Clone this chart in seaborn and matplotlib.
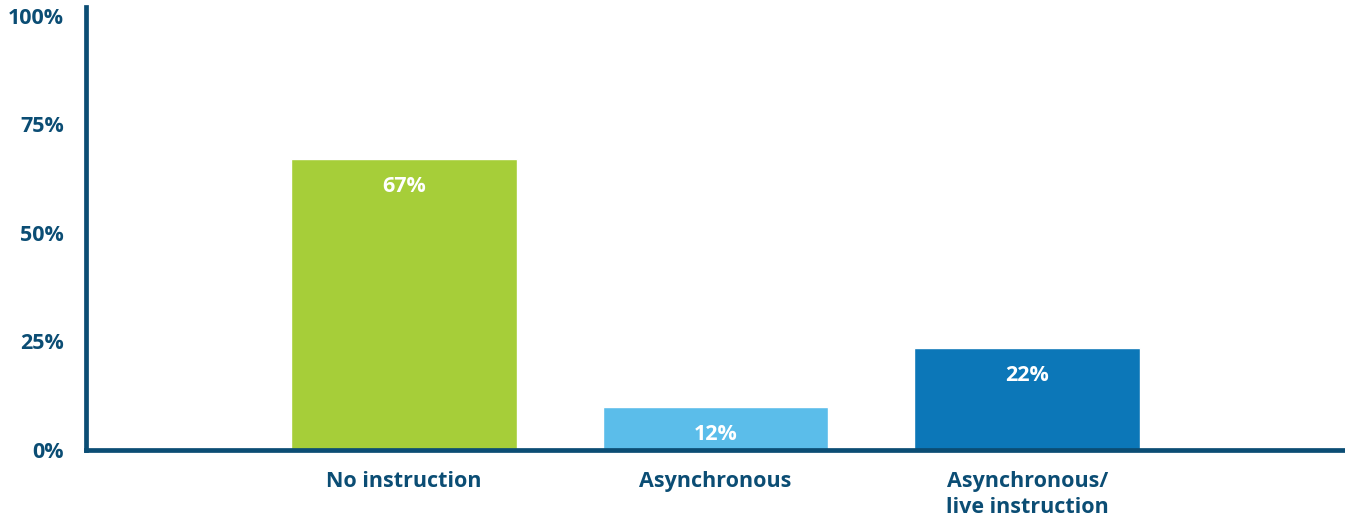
import seaborn as sns
from matplotlib import pyplot as plt
import pandas as pd

categories = ['No instruction', 'Asynchronous', 'Asynchronous/\nlive instruction']
bar_heights = [67, 9.9, 23.5]
value_labels = ['67%', '12%', '22%']
bar_colors = ['#A6CE39', '#5BBDEA', '#0C77B8']
y_ticks = [0, 25, 50, 75, 100]
y_tick_labels = ['0%', '25%', '50%', '75%', '100%']

navy = '#0B4D74'

df = pd.DataFrame({'category': categories, 'share': bar_heights})

sns.set_style('white')
plt.rcParams['font.family'] = ['Open Sans', 'DejaVu Sans']
plt.rcParams['font.weight'] = 'bold'

fig = plt.figure(figsize=(13.45, 5.17), dpi=100)
ax = fig.add_axes([0.064, 0.1296, 0.936, 0.857])

sns.barplot(data=df, x='category', y='share', hue='category', palette=bar_colors,
            width=0.724, legend=False, ax=ax, saturation=1)

for i, bar in enumerate(ax.patches):
    ax.annotate(value_labels[i], (bar.get_x() + bar.get_width() / 2, bar.get_height()),
                xytext=(0, -20), textcoords='offset points', ha='center', va='center',
                color='white', fontsize=15.5, fontweight='bold')

ax.set_xlim(-1.02, 3.02)
ax.set_ylim(0, 102)
ax.set_yticks(y_ticks)
ax.set_yticklabels(y_tick_labels)
ax.set_xlabel('')
ax.set_ylabel('')
ax.tick_params(axis='both', length=0, colors=navy)
ax.tick_params(axis='y', pad=16, labelsize=15.5)
ax.tick_params(axis='x', pad=15, labelsize=15.5)
for lab in ax.get_xticklabels() + ax.get_yticklabels():
    lab.set_fontweight('bold')
for lab in ax.get_xticklabels():
    lab.set_linespacing(1.3)
for lab in ax.get_yticklabels():
    lab.set_va('center_baseline')

sns.despine(ax=ax)
for side in ['left', 'bottom']:
    ax.spines[side].set_color(navy)
    ax.spines[side].set_linewidth(3.4)

plt.savefig('out.png', dpi=100)
